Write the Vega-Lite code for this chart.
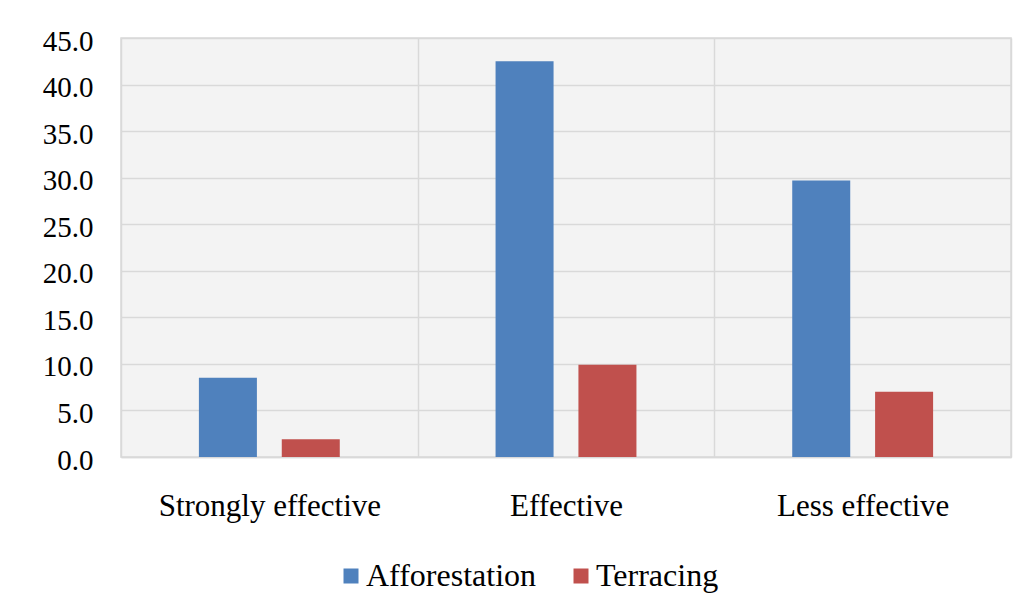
{
  "$schema": "https://vega.github.io/schema/vega-lite/v6.json",
  "width": 890,
  "height": 419,
  "autosize": "none",
  "padding": {"left": 121, "top": 38, "right": 18, "bottom": 157},
  "background": "white",
  "data": {
    "values": [
      {"effectiveness": "Strongly effective", "measure": "Afforestation", "percent": 8.5},
      {"effectiveness": "Strongly effective", "measure": "Terracing", "percent": 1.9},
      {"effectiveness": "Effective", "measure": "Afforestation", "percent": 42.5},
      {"effectiveness": "Effective", "measure": "Terracing", "percent": 9.9},
      {"effectiveness": "Less effective", "measure": "Afforestation", "percent": 29.7},
      {"effectiveness": "Less effective", "measure": "Terracing", "percent": 7.0}
    ]
  },
  "mark": {"type": "bar"},
  "encoding": {
    "x": {
      "field": "effectiveness",
      "type": "nominal",
      "sort": ["Strongly effective", "Effective", "Less effective"],
      "scale": {"paddingInner": 0, "paddingOuter": 0},
      "axis": {
        "title": null,
        "labelAngle": 0,
        "labelFont": "Liberation Serif",
        "labelFontSize": 31,
        "labelColor": "#000000",
        "labelBaseline": "alphabetic",
        "labelPadding": 58,
        "labelLimit": 400,
        "ticks": false,
        "tickSize": 0,
        "tickBand": "extent",
        "domain": true,
        "domainColor": "#d9d9d9",
        "domainWidth": 1.5,
        "grid": true,
        "gridColor": "#d9d9d9",
        "gridWidth": 1.5
      }
    },
    "xOffset": {
      "field": "measure",
      "type": "nominal",
      "sort": ["Afforestation", "Terracing"],
      "scale": {"paddingInner": 0.3, "paddingOuter": 0.94}
    },
    "y": {
      "field": "percent",
      "type": "quantitative",
      "scale": {"domain": [0, 45], "nice": false},
      "axis": {
        "title": null,
        "values": [0, 5, 10, 15, 20, 25, 30, 35, 40, 45],
        "format": ".1f",
        "labelFont": "Liberation Serif",
        "labelFontSize": 29,
        "labelColor": "#000000",
        "labelPadding": 28,
        "labelOffset": 3,
        "ticks": false,
        "tickSize": 0,
        "domain": false,
        "grid": true,
        "gridColor": "#d9d9d9",
        "gridWidth": 1.5
      }
    },
    "color": {
      "field": "measure",
      "type": "nominal",
      "scale": {"domain": ["Afforestation", "Terracing"], "range": ["#4f81bd", "#c0504d"]},
      "legend": {
        "title": null,
        "orient": "none",
        "direction": "horizontal",
        "legendX": 214,
        "legendY": 522,
        "symbolType": "square",
        "symbolSize": 225,
        "symbolStrokeWidth": 0,
        "labelFont": "Liberation Serif",
        "labelFontSize": 32,
        "labelColor": "#000000",
        "labelOffset": -1,
        "labelLimit": 400,
        "columnPadding": 28
      }
    }
  },
  "config": {
    "view": {"stroke": "#d9d9d9", "strokeWidth": 1.5, "fill": "#f3f3f3"}
  }
}
